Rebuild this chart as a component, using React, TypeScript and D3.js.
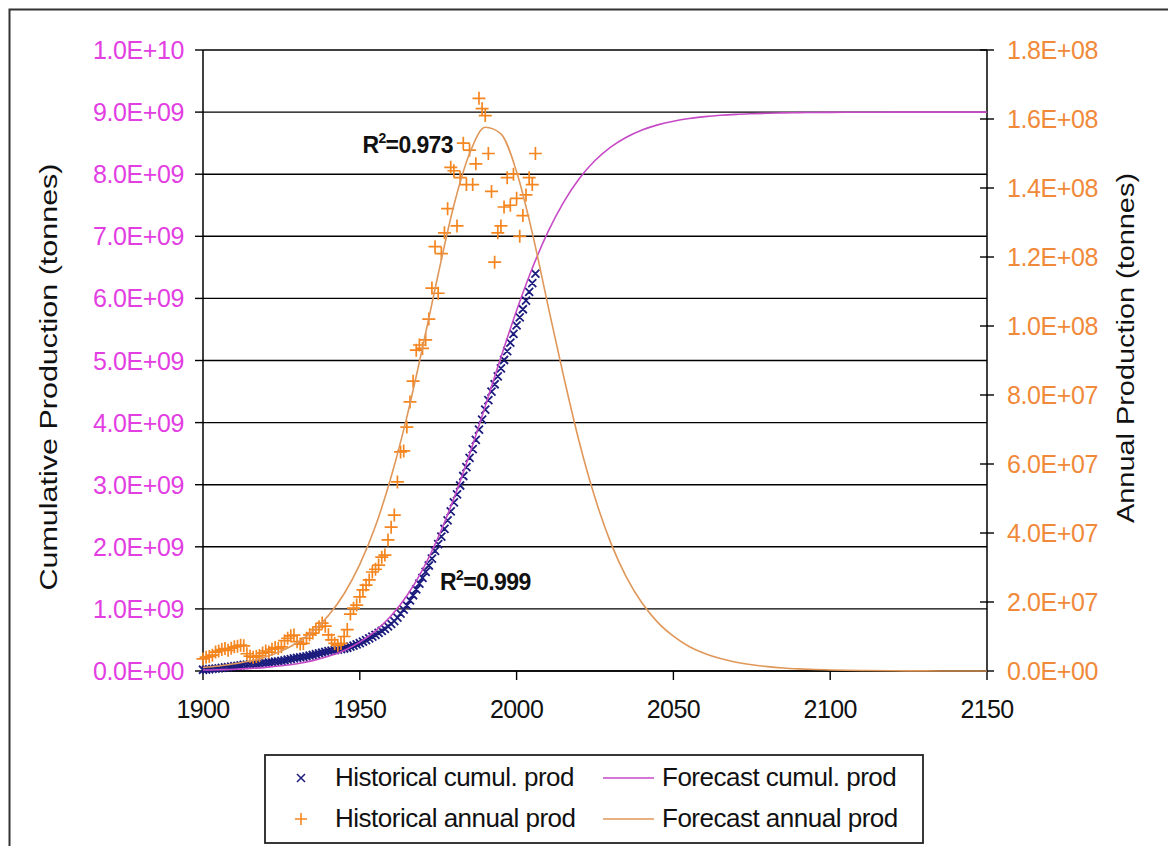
import React from "react";
import * as d3 from "d3";

// ---------- DATA ----------
const histYears = d3.range(1900, 2007);

// Historical annual production (million tonnes), 1900..2006
const histAnnual = [
  3.5, 4.0, 4.2, 4.6, 5.5, 5.8, 6.2, 6.5, 6.0, 6.6,
  7.0, 7.2, 7.5, 7.3, 5.0, 4.3, 4.0, 4.2, 4.5, 5.2,
  5.8, 5.5, 6.3, 6.8, 6.5, 7.0, 8.8, 9.5, 10.2, 10.4,
  8.5, 7.8, 8.0, 9.5, 10.5, 11.0, 12.0, 12.8, 13.9, 13.0,
  10.5, 9.0, 8.0, 7.5, 8.0, 10.0, 12.0, 16.5, 18.2, 19.1,
  21.5, 23.5, 24.9, 26.4, 28.7, 29.5, 30.7, 33.0, 33.6, 38.0,
  41.7, 45.2, 54.8, 63.5, 63.8, 70.7, 78.0, 84.0, 93.0, 94.5,
  93.5, 96.0, 102.0, 111.0, 123.0, 109.5, 121.0, 127.0, 134.0, 146.0,
  145.0, 129.0, 143.0, 153.0, 141.0, 151.0, 141.0, 147.0, 166.0, 163.0,
  161.0, 150.0, 139.0, 118.5, 127.0, 129.0, 134.5, 143.0, 135.0, 144.0,
  137.0, 126.0, 132.0, 138.0, 143.0, 141.0, 150.0,
];

// Historical cumulative production (million tonnes), 1900..2006
const histCumul = [
  20.0, 24.0, 28.2, 32.8, 38.3, 44.1, 50.3, 56.8, 62.8, 69.4,
  76.4, 83.6, 91.1, 98.4, 103.4, 107.7, 111.7, 115.9, 120.4, 125.6,
  131.4, 136.9, 143.2, 150.0, 156.5, 163.5, 172.3, 181.8, 192.0, 202.4,
  210.9, 218.7, 226.7, 236.2, 246.7, 257.7, 269.7, 282.5, 296.4, 309.4,
  319.9, 328.9, 336.9, 344.4, 352.4, 362.4, 374.4, 390.9, 409.1, 428.2,
  449.7, 473.2, 498.1, 524.5, 553.2, 582.7, 613.4, 646.4, 680.0, 718.0,
  759.7, 804.9, 859.7, 923.2, 987.0, 1057.7, 1135.7, 1219.7, 1312.7, 1407.2,
  1500.7, 1596.7, 1698.7, 1809.7, 1932.7, 2042.2, 2163.2, 2290.2, 2424.2, 2570.2,
  2715.2, 2844.2, 2987.2, 3140.2, 3281.2, 3432.2, 3573.2, 3720.2, 3886.2, 4049.2,
  4210.2, 4360.2, 4499.2, 4617.7, 4744.7, 4873.7, 5008.2, 5151.2, 5286.2, 5430.2,
  5567.2, 5693.2, 5825.2, 5963.2, 6106.2, 6247.2, 6397.2,
];

// Forecast curves
const fcYears = [
  1900, 1905, 1910, 1915, 1920, 1925, 1930, 1935, 1940, 1945,
  1950, 1955, 1960, 1965, 1970, 1975, 1980, 1985, 1990, 1995,
  2000, 2005, 2010, 2015, 2020, 2025, 2030, 2035, 2040, 2045,
  2050, 2055, 2060, 2065, 2070, 2075, 2080, 2085, 2090, 2095,
  2100, 2110, 2120, 2130, 2140, 2150,
];
// million tonnes / year
const fcAnnual = [
  1.0, 1.45, 2.1, 2.9, 4.1, 5.8, 8.2, 11.5, 16.1, 22.4,
  30.9, 42.0, 56.3, 73.6, 93.7, 115.0, 135.0, 150.0, 157.6, 155.7,
  144.7, 127.0, 106.0, 85.4, 66.3, 50.2, 37.2, 27.2, 19.7, 14.1,
  10.1, 7.1, 5.1, 3.6, 2.55, 1.8, 1.27, 0.89, 0.63, 0.44,
  0.31, 0.15, 0.07, 0.03, 0.015, 0.007,
];
// million tonnes
const fcCumul = [
  15, 21, 29, 42, 59, 84, 118, 167, 236, 331,
  464, 645, 889, 1211, 1630, 2153, 2778, 3491, 4265, 5051,
  5806, 6486, 7070, 7550, 7930, 8220, 8435, 8594, 8711, 8794,
  8854, 8897, 8927, 8949, 8964, 8974, 8982, 8987, 8991, 8994,
  8996, 8998, 8999, 9000, 9000, 9000,
];

const xTicks = [1900, 1950, 2000, 2050, 2100, 2150];
const leftTicks = [0, 1e9, 2e9, 3e9, 4e9, 5e9, 6e9, 7e9, 8e9, 9e9, 1e10];
const leftTickLabels = [
  "0.0E+00", "1.0E+09", "2.0E+09", "3.0E+09", "4.0E+09", "5.0E+09",
  "6.0E+09", "7.0E+09", "8.0E+09", "9.0E+09", "1.0E+10",
];
const rightTicks = [0, 2e7, 4e7, 6e7, 8e7, 1e8, 1.2e8, 1.4e8, 1.6e8, 1.8e8];
const rightTickLabels = [
  "0.0E+00", "2.0E+07", "4.0E+07", "6.0E+07", "8.0E+07", "1.0E+08",
  "1.2E+08", "1.4E+08", "1.6E+08", "1.8E+08",
];

const legendItems = [
  "Historical cumul. prod",
  "Historical annual prod",
  "Forecast cumul. prod",
  "Forecast annual prod",
];

// ---------- STYLE ----------
const FONT = "'Liberation Sans', Arial, Helvetica, sans-serif";
const NAVY = "#1c1c7e";
const ORANGE = "#f5861f";
const PURPLE = "#c64ac6";
const FC_ORANGE = "#e0975a";
const MAGENTA_TXT = "#e23ee2";
const ORANGE_TXT = "#f08a3a";

const L = 203, R = 987, T = 50, B = 671;

export default function App() {
  const x = d3.scaleLinear().domain([1900, 2150]).range([L, R]);
  const yL = d3.scaleLinear().domain([0, 1e10]).range([B, T]);
  const yR = d3.scaleLinear().domain([0, 1.8e8]).range([B, T]);

  const fcAnnualLine = d3
    .line<number>()
    .x((_, i) => x(fcYears[i]))
    .y((d) => yR(d * 1e6))
    .curve(d3.curveMonotoneX);
  const fcCumulLine = d3
    .line<number>()
    .x((_, i) => x(fcYears[i]))
    .y((d) => yL(d * 1e6))
    .curve(d3.curveMonotoneX);

  const xMark = (cx: number, cy: number, s: number) =>
    `M${cx - s},${cy - s}L${cx + s},${cy + s}M${cx - s},${cy + s}L${cx + s},${cy - s}`;
  const plusMark = (cx: number, cy: number, s: number) =>
    `M${cx - s},${cy}L${cx + s},${cy}M${cx},${cy - s}L${cx},${cy + s}`;

  const cumulPath = histCumul
    .map((v, i) => xMark(x(histYears[i]), yL(v * 1e6), 4))
    .join("");
  const annualPath = histAnnual
    .map((v, i) => plusMark(x(histYears[i]), yR(v * 1e6), 6.5))
    .join("");

  return (
    <svg
      width={1168}
      height={846}
      style={{ position: "absolute", left: 0, top: 0, background: "#fff" }}
      fontFamily={FONT}
    >
      <rect x={0} y={0} width={1168} height={846} fill="#fff" />
      {/* outer frame */}
      <rect x={9.5} y={9.5} width={1300} height={1000} fill="none" stroke="#333" strokeWidth={2} />

      {/* gridlines */}
      {leftTicks.map((t) => (
        <line key={"g" + t} x1={L} x2={R} y1={yL(t)} y2={yL(t)} stroke="#000" strokeWidth={1.4} />
      ))}

      {/* left axis */}
      <line x1={L} x2={L} y1={T} y2={B} stroke="#000" strokeWidth={1.5} />
      {leftTicks.map((t, i) => (
        <g key={"lt" + t}>
          <line x1={L - 8} x2={L} y1={yL(t)} y2={yL(t)} stroke="#000" strokeWidth={1.4} />
          <text
            x={184}
            y={yL(t) + 9}
            textAnchor="end"
            fontSize={25}
            fill={MAGENTA_TXT}
            letterSpacing={-0.4}
          >
            {leftTickLabels[i]}
          </text>
        </g>
      ))}

      {/* right axis */}
      <line x1={R} x2={R} y1={T} y2={B} stroke="#000" strokeWidth={1.5} />
      {rightTicks.map((t, i) => (
        <g key={"rt" + t}>
          <line x1={R - 7} x2={R + 7} y1={yR(t)} y2={yR(t)} stroke="#000" strokeWidth={1.4} />
          <text
            x={1007}
            y={yR(t) + 9}
            textAnchor="start"
            fontSize={25}
            fill={ORANGE_TXT}
            letterSpacing={-0.4}
          >
            {rightTickLabels[i]}
          </text>
        </g>
      ))}

      {/* x axis */}
      <line x1={L} x2={R} y1={B} y2={B} stroke="#000" strokeWidth={1.5} />
      {xTicks.map((t) => (
        <g key={"xt" + t}>
          <line x1={x(t)} x2={x(t)} y1={B} y2={B + 9} stroke="#000" strokeWidth={1.4} />
          <text x={x(t)} y={718} textAnchor="middle" fontSize={25} fill="#111" letterSpacing={-0.6}>
            {t}
          </text>
        </g>
      ))}

      {/* historical markers */}
      <path d={cumulPath} stroke={NAVY} strokeWidth={1.8} fill="none" />
      <path d={annualPath} stroke={ORANGE} strokeWidth={1.7} fill="none" />

      {/* forecast lines */}
      <path d={fcCumulLine(fcCumul) || ""} stroke={PURPLE} strokeWidth={1.6} fill="none" />
      <path d={fcAnnualLine(fcAnnual) || ""} stroke={FC_ORANGE} strokeWidth={1.6} fill="none" />

      {/* R² annotations */}
      <text x={453} y={153} textAnchor="end" fontSize={23} fontWeight="bold" fill="#111" letterSpacing={-0.6}>
        R<tspan dy={-10} fontSize={14}>2</tspan>
        <tspan dy={10}>=0.973</tspan>
      </text>
      <text x={440} y={590} textAnchor="start" fontSize={23} fontWeight="bold" fill="#111" letterSpacing={-0.6}>
        R<tspan dy={-10} fontSize={14}>2</tspan>
        <tspan dy={10}>=0.999</tspan>
      </text>

      {/* axis titles */}
      <text
        transform="translate(49,377) rotate(-90)"
        textAnchor="middle"
        dominantBaseline="central"
        fontSize={23}
        fill="#111"
        textLength={427}
        lengthAdjust="spacingAndGlyphs"
      >
        Cumulative Production (tonnes)
      </text>
      <text
        transform="translate(1126,348) rotate(-90)"
        textAnchor="middle"
        dominantBaseline="central"
        fontSize={23}
        fill="#111"
        textLength={350}
        lengthAdjust="spacingAndGlyphs"
      >
        Annual Production (tonnes)
      </text>

      {/* legend */}
      <rect x={265} y={755} width={658} height={88} fill="#fff" stroke="#222" strokeWidth={1.8} />
      <path d={xMark(301, 778, 4)} stroke={NAVY} strokeWidth={1.5} />
      <path d={plusMark(301, 819, 6)} stroke={ORANGE} strokeWidth={1.6} />
      <line x1={603} x2={654} y1={778} y2={778} stroke={PURPLE} strokeWidth={1.6} />
      <line x1={603} x2={654} y1={819} y2={819} stroke={FC_ORANGE} strokeWidth={1.6} />
      <text x={335} y={786} fontSize={26} fill="#111" letterSpacing={-0.5}>{legendItems[0]}</text>
      <text x={335} y={827} fontSize={26} fill="#111" letterSpacing={-0.5}>{legendItems[1]}</text>
      <text x={662} y={786} fontSize={26} fill="#111" letterSpacing={-0.5}>{legendItems[2]}</text>
      <text x={662} y={827} fontSize={26} fill="#111" letterSpacing={-0.5}>{legendItems[3]}</text>
    </svg>
  );
}
